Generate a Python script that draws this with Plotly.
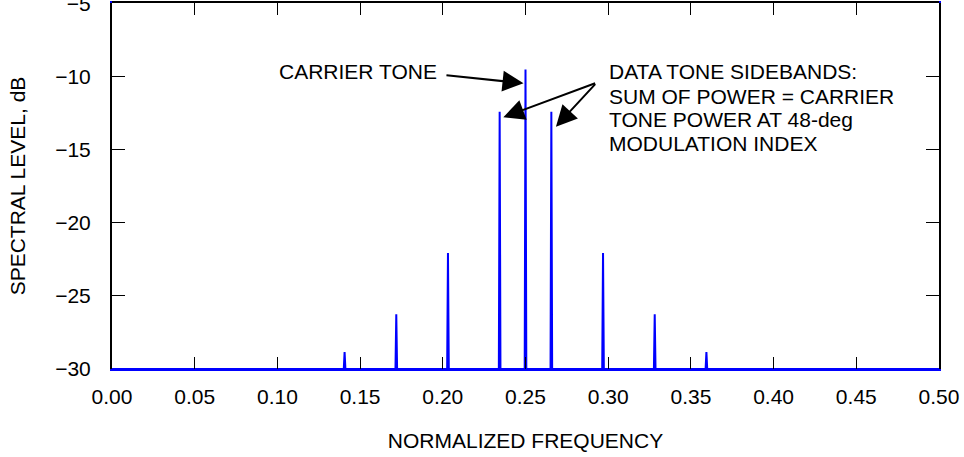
import numpy as np
import plotly.graph_objects as go

# ---- data ----
n_bins = 1024                      # bins over 0 .. 0.5 normalized frequency
floor_level = -30.05               # spectral floor, dB
tone_freqs = [9/64, 11/64, 13/64, 15/64, 16/64, 17/64, 19/64, 21/64, 23/64]
tone_levels = [-28.9, -26.3, -22.1, -12.4, -9.5, -12.4, -22.1, -26.3, -28.9]

x_tick_vals = [0.00, 0.05, 0.10, 0.15, 0.20, 0.25, 0.30, 0.35, 0.40, 0.45, 0.50]
x_tick_text = ["0.00", "0.05", "0.10", "0.15", "0.20", "0.25", "0.30", "0.35", "0.40", "0.45", "0.50"]
y_tick_vals = [-30, -25, -20, -15, -10, -5]

carrier_label = "CARRIER TONE"
sideband_lines = ["DATA TONE SIDEBANDS:", "SUM OF POWER = CARRIER",
                  "TONE POWER AT 48-deg", "MODULATION INDEX"]

# ---- build spectrum ----
freq = np.arange(n_bins + 1) / (2 * n_bins)
level = np.full(freq.shape, floor_level)
for f, l in zip(tone_freqs, tone_levels):
    level[int(round(f * 2 * n_bins))] = l

FONT = "Liberation Sans, Arial, Helvetica, sans-serif"
BLUE = "#0000ff"

fig = go.Figure()
fig.add_trace(go.Scatter(x=freq, y=level, mode="lines",
                         line=dict(color=BLUE, width=2), hoverinfo="skip"))

fig.update_layout(
    width=964, height=457,
    margin=dict(l=112, r=25, t=3, b=88, autoexpand=False),
    plot_bgcolor="white", paper_bgcolor="white",
    showlegend=False,
    font=dict(family=FONT, size=21, color="black"),
)
fig.update_xaxes(
    range=[0, 0.5], tickvals=x_tick_vals, ticktext=x_tick_text,
    ticks="inside", ticklen=12, tickwidth=1, tickcolor="black",
    mirror="ticks", showline=True, linecolor=BLUE, linewidth=2,
    showgrid=False, zeroline=False, ticklabelstandoff=8,
    ticklabeloverflow="allow", automargin=False,
    title=dict(text="NORMALIZED FREQUENCY", standoff=26, font=dict(size=21)),
)
fig.update_yaxes(
    range=[-30.055, -4.945], tickvals=y_tick_vals,
    ticks="inside", ticklen=13, tickwidth=1, tickcolor="black",
    mirror="ticks", showline=True, linecolor="black", linewidth=2,
    showgrid=False, zeroline=False, ticklabelstandoff=15,
    ticklabeloverflow="allow", automargin=False,
    title=dict(text="SPECTRAL LEVEL, dB", standoff=24, font=dict(size=21)),
)

# top border in black (x axis line is blue to merge with the spectral floor)
fig.add_shape(type="line", xref="x", xsizemode="pixel", xanchor=0, x0=-3, x1=830,
              yref="paper", ysizemode="pixel", yanchor=1, y0=1, y1=1,
              line=dict(color="black", width=2))

# text labels
fig.add_annotation(x=0.1975, y=-9.61, xref="x", yref="y", text=carrier_label,
                   showarrow=False, xanchor="right", yanchor="middle",
                   font=dict(size=21))
sb_y = [-9.63, -11.38, -12.97, -14.58]
for t, yy in zip(sideband_lines, sb_y):
    fig.add_annotation(x=0.2995, y=yy, xref="x", yref="y", text=t,
                       showarrow=False, xanchor="left", yanchor="middle",
                       font=dict(size=21))

# arrows (tail -> tip)
arrows = [
    ((0.2013, -9.885), (0.2488, -10.454)),
    ((0.2930, -10.41), (0.2366, -12.787)),
    ((0.2930, -10.41), (0.2684, -13.43)),
]
for (tx, ty), (hx, hy) in arrows:
    fig.add_annotation(x=hx, y=hy, ax=tx, ay=ty, xref="x", yref="y",
                       axref="x", ayref="y", text="", showarrow=True,
                       arrowhead=2, arrowsize=2.1, arrowwidth=2,
                       arrowcolor="black")

fig.write_html("out.html")
